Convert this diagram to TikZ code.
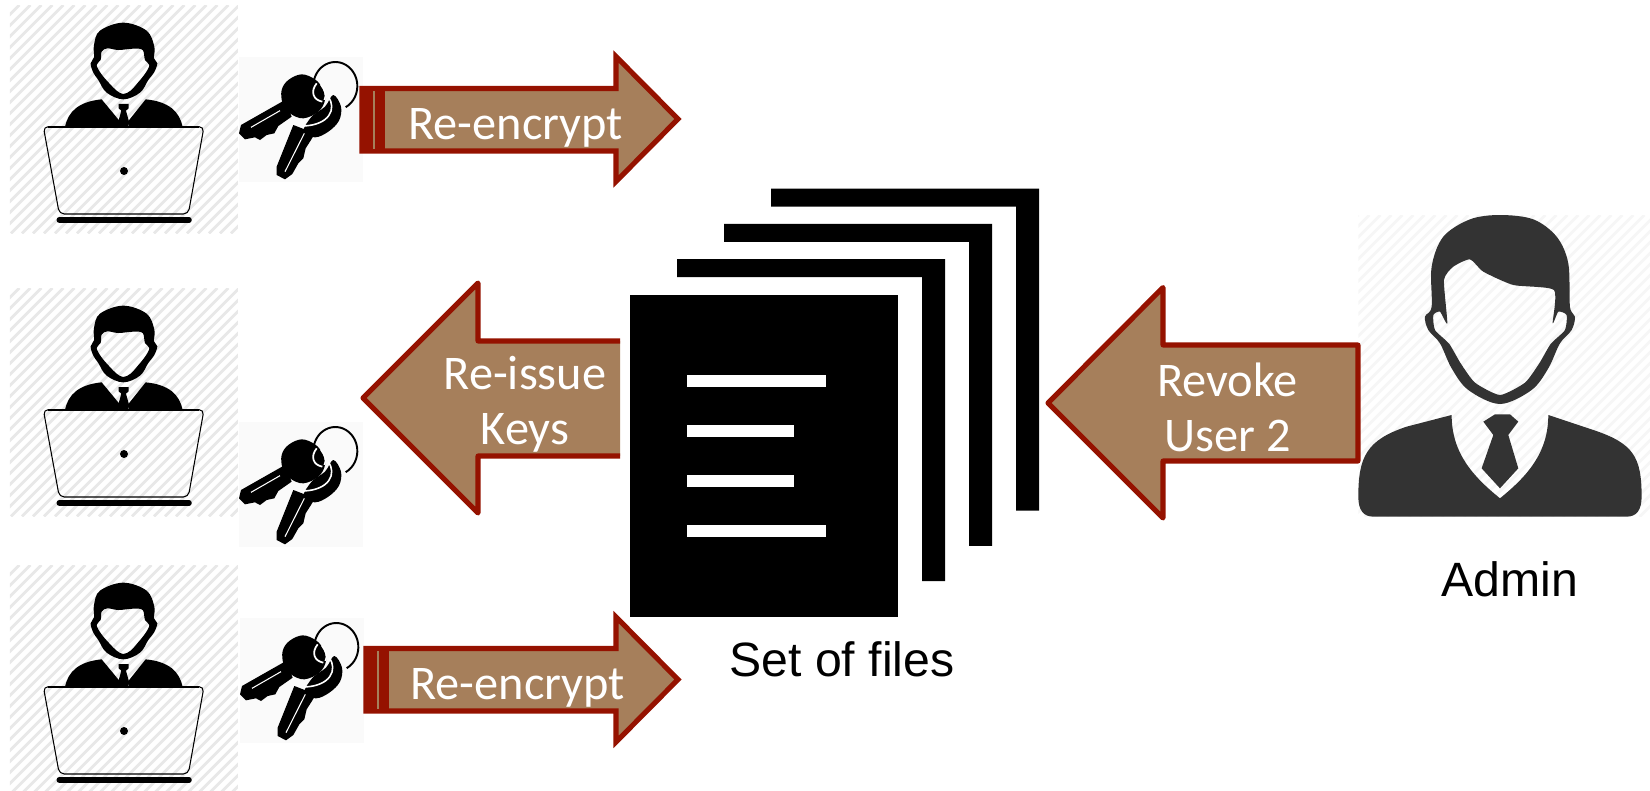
\documentclass[tikz,border=0pt]{standalone}
\usepackage{fontspec}
\newfontfamily\arrowfont{Carlito}
\newfontfamily\labelfont{Liberation Sans}
\usetikzlibrary{positioning}
\definecolor{arrowtan}{RGB}{166,127,91}
\definecolor{arrowred}{RGB}{149,18,0}
\definecolor{hatchgray}{RGB}{232,232,232}
\definecolor{faintgray}{RGB}{246,246,246}
\definecolor{keygray}{RGB}{250,250,250}
\definecolor{admingray}{RGB}{51,51,51}
\tikzset{
blockarrow/.style={fill=arrowtan,draw=arrowred,line width=1.45pt},
arrowtext/.style={text=white,inner sep=0pt,font=\arrowfont\fontsize{13.75}{15.7}\selectfont},
plainlabel/.style={text=black,inner sep=0pt,anchor=base,font=\labelfont\fontsize{13.7}{16}\selectfont},
user/.pic={
\begin{scope}[scale=0.3333]
\begin{scope}
\clip (30,15) rectangle (714,700);
\foreach \i in {-660,-627,...,720} \draw[color=hatchgray,line width=0.8pt] (\i,700) -- ({\i+685},15);
\end{scope}
% head with the face left open
\fill[color=black,even odd rule] plot[smooth cycle,tension=0.6] coordinates {(370,68) (440,92) (463,140) (462,175) (472,190) (462,218) (445,240) (420,278) (370,298) (320,278) (295,240) (280,218) (272,190) (282,172) (282,135) (300,92)}
plot[smooth cycle,tension=0.6] coordinates {(322,145) (355,150) (400,146) (428,150) (435,180) (448,195) (436,220) (412,250) (392,272) (370,282) (350,272) (328,250) (304,222) (290,195) (302,180) (305,155)};
\fill[color=black] (195,380) .. controls (205,335) and (235,305) .. (305,298) -- (358,362) -- (358,380) -- cycle;
\fill[color=black] (548,380) .. controls (538,335) and (508,305) .. (437,298) -- (386,362) -- (386,380) -- cycle;
\fill[color=black] (356,312) -- (386,312) -- (386,325) -- (378,332) -- (388,368) -- (384,380) -- (358,380) -- (354,368) -- (364,332) -- (356,325) -- cycle;
% laptop
\draw[color=black,line width=0.3pt,rounded corners=1.4pt] (130,380) -- (612,380) -- (565,642) -- (178,642) -- cycle;
\draw[color=black,line width=0.5pt] (145,380) -- (597,380);
\draw[color=black,line width=1.6pt,line cap=round] (178,660) -- (567,660);
\fill[color=black] (372,513) circle (12);
\end{scope}
},
keyring/.pic={
\begin{scope}[scale=0.3333]
\fill[color=keygray] (12,21) rectangle (384,396);
\draw[color=black,line width=0.55pt] plot[domain=-62:195,samples=40] ({301+66*cos(\x)},{108-72*sin(\x)});
% upper key
\fill[color=black] plot[smooth cycle,tension=0.6] coordinates {(200,73) (240,88) (262,115) (270,150) (250,185) (205,205) (165,190) (143,160) (140,120) (160,90)};
\fill[color=black] (150,150) -- (18,225) -- (12,250) -- (30,268) -- (60,262) -- (75,270) -- (95,255) -- (118,250) -- (130,228) -- (170,200) -- cycle;
\draw[color=white,line width=0.3pt] (135,182) -- (48,232);
% lower key
\fill[color=black] plot[smooth cycle,tension=0.6] coordinates {(295,135) (318,170) (312,212) (280,245) (240,262) (205,245) (230,200) (270,170)};
\fill[color=black] (175,225) -- (125,350) -- (125,375) -- (150,388) -- (172,372) -- (190,340) -- (205,325) -- (212,295) -- (228,270) -- (240,250) -- cycle;
\draw[color=white,line width=0.3pt] (208,250) -- (150,365);
\draw[color=white,line width=0.45pt] (280,140) .. controls (305,175) and (285,225) .. (205,228);
\draw[color=white,line width=0.5pt] (245,100) .. controls (225,125) and (235,150) .. (262,155);
\draw[color=white,line width=0.4pt] (258,105) .. controls (270,120) and (275,135) .. (268,150);
\end{scope}
},
adminman/.pic={
\begin{scope}[scale=0.3333]
\begin{scope}
\clip (55,45) rectangle (930,950);
\foreach \i in {-850,-817,...,930} \draw[color=faintgray,line width=0.8pt] (\i,950) -- ({\i+905},45);
\end{scope}
\fill[color=admingray,even odd rule] plot[smooth cycle,tension=0.55] coordinates {(480,45) (580,58) (650,110) (685,190) (690,320) (705,350) (695,390) (660,430) (625,505) (575,570) (480,612) (385,570) (335,505) (300,430) (265,390) (255,350) (275,320) (275,200) (310,110) (390,58)}
plot[smooth cycle,tension=0.35] coordinates {(390,178) (430,215) (520,255) (642,270) (638,370) (655,335) (680,345) (675,390) (632,432) (598,490) (555,548) (480,585) (405,548) (362,490) (328,432) (285,390) (280,345) (300,335) (322,370) (312,240) (340,200)};
\fill[color=admingray] (55,890) .. controls (55,770) and (80,720) .. (200,680) -- (335,645) .. controls (335,760) and (400,830) .. (480,895) .. controls (560,830) and (625,760) .. (625,645) -- (760,690) .. controls (880,730) and (905,770) .. (905,890) .. controls (905,930) and (890,950) .. (860,950) -- (100,950) .. controls (70,950) and (55,930) .. (55,890) -- cycle;
\fill[color=admingray] (430,665) -- (465,643) -- (510,643) -- (535,665) -- (505,705) -- (535,805) -- (480,865) -- (425,805) -- (460,705) -- cycle;
\end{scope}
}
}

\begin{document}
\begin{tikzpicture}[x=0.01cm,y=-0.01cm]
\useasboundingbox (0,0) rectangle (1650,790);

\pic (usera) at (0,0) {user};
\pic (userb) at (0,283) {user};
\pic (userc) at (0,560) {user};
\pic (keysa) at (235,50) {keyring};
\pic (keysb) at (235,415) {keyring};
\pic (keysc) at (236,611) {keyring};
\pic (admin) at (1340,200) {adminman};

% stack of files
\foreach \n in {0,1,2} \fill[color=black,shift={(\n*47,-\n*35.2)}] (677,259) -- (945,259) -- (945,581) -- (922,581) -- (922,277) -- (677,277) -- cycle;
\fill[color=black] (630,295) rectangle (898,617);
\fill[color=white] (687,375) rectangle (826,387);
\fill[color=white] (687,425) rectangle (794,437);
\fill[color=white] (687,475) rectangle (794,487);
\fill[color=white] (687,525) rectangle (826,537);

% re-encrypt, top
\draw[blockarrow] (362,88.5) -- (616,88.5) -- (616,56.5) -- (678,119) -- (616,181.5) -- (616,151) -- (362,151) -- cycle;
\fill[color=arrowred] (360,86) rectangle (385,153);
\fill[color=arrowtan] (373,91) rectangle (375,149);
\node[arrowtext,anchor=base] (encrypta) at (515.5,139.5) {Re-encrypt};

% re-encrypt, bottom
\draw[blockarrow] (366,648.5) -- (616,648.5) -- (616,617) -- (678,679.5) -- (616,742) -- (616,711) -- (366,711) -- cycle;
\fill[color=arrowred] (364,646) rectangle (389,713);
\fill[color=arrowtan] (377,651) rectangle (379,709);
\node[arrowtext,anchor=base] (encryptb) at (517.7,699.5) {Re-encrypt};

% re-issue, open at the files
\fill[color=arrowtan] (620,341) -- (478,341) -- (478,283) -- (363,398) -- (478,513) -- (478,456) -- (620,456) -- cycle;
\draw[color=arrowred,line width=1.45pt,line join=round] (620,341) -- (478,341) -- (478,283) -- (363,398) -- (478,513) -- (478,456) -- (620,456);
\node[arrowtext,align=center] (reissue) at (525,404.5) {Re-issue\\Keys};

% revoke
\draw[blockarrow,line join=round] (1358,345) -- (1163,345) -- (1163,287.5) -- (1048,403) -- (1163,518) -- (1163,461) -- (1358,461) -- cycle;
\node[arrowtext,align=center] (revoke) at (1227.5,407.5) {Revoke\\User 2};

\node[plainlabel] (files) at (842,676) {Set of files};
\node[plainlabel] (adminlabel) at (1510,596) {Admin};
\end{tikzpicture}
\end{document}
